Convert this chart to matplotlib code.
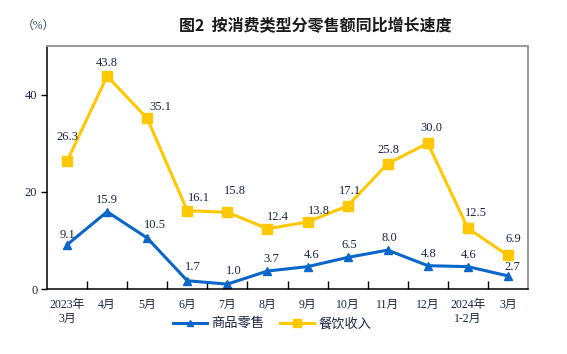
import matplotlib
matplotlib.use("Agg")
import matplotlib.pyplot as plt
import numpy as np

# categories and values
months = ["2023年\n3月", "4月", "5月", "6月", "7月", "8月", "9月", "10月",
          "11月", "12月", "2024年\n1-2月", "3月"]
goods = [9.1, 15.9, 10.5, 1.7, 1.0, 3.7, 4.6, 6.5, 8.0, 4.8, 4.6, 2.7]
catering = [26.3, 43.8, 35.1, 16.1, 15.8, 12.4, 13.8, 17.1, 25.8, 30.0, 12.5, 6.9]

# label offsets (pixels) to mimic the original placement
goods_off = [(0, 10), (0, 12), (8, 13), (6, 14), (6, 13), (4, 12), (4, 12), (2, 12),
             (2, 12), (1, 12), (1, 12), (4, 9)]
cat_off = [(0, 24), (0, 13), (13, 11), (12, 13), (8, 21), (10, 12), (11, 11), (2, 15),
           (1, 14), (4, 15), (8, 15), (5, 16)]

serif = ["Liberation Serif", "Noto Sans CJK SC"]
txtc = "#1c2340"
blue = "#0a66c8"
yellow = "#ffc800"

fig = plt.figure(figsize=(5.67, 3.54), dpi=100)
ax = fig.add_axes([47/567, 1-289/354, (528-47)/567, (289-46)/354])

x = np.arange(len(months))
ax.plot(x, goods, color=blue, lw=2.2, marker="^", ms=5.5, label="商品零售")
ax.plot(x, catering, color=yellow, lw=2.2, marker="s", ms=6.5, label="餐饮收入")

for xi, v, (dx, dy) in zip(x, goods, goods_off):
    ax.annotate(f"{v:.1f}", (xi, v), xytext=(dx, dy), textcoords="offset pixels",
                ha="center", va="center", fontsize=9, family=serif, color=txtc)
for xi, v, (dx, dy) in zip(x, catering, cat_off):
    ax.annotate(f"{v:.1f}", (xi, v), xytext=(dx, dy), textcoords="offset pixels",
                ha="center", va="center", fontsize=9, family=serif, color=txtc)

ax.set_xlim(-0.5, len(months) - 0.5)
ax.set_ylim(0, 50)
ax.set_yticks([0, 20, 40])
ax.tick_params(axis="y", direction="out", length=4, width=1, pad=3,
               labelsize=9, labelcolor=txtc)
for t in ax.get_yticklabels():
    t.set_family(serif)

ax.set_xticks(np.arange(0.5, len(months) - 1, 1))
ax.set_xticklabels([])
ax.tick_params(axis="x", which="major", direction="in", length=6, width=1)
ax.set_xticks(x, minor=True)
ax.set_xticklabels(months, minor=True, fontsize=8.5, family=serif, color=txtc,
                   linespacing=1.25)
ax.tick_params(axis="x", which="minor", length=0, pad=7)

for s in ["left", "bottom"]:
    ax.spines[s].set_color("black")
    ax.spines[s].set_linewidth(1.1)
for s in ["top", "right"]:
    ax.spines[s].set_color("#999999")
    ax.spines[s].set_linewidth(1.4)

fig.text(315/567, 1-26/354, "图2  按消费类型分零售额同比增长速度", ha="center", va="center",
         fontsize=11.5, weight="semibold", family=["Noto Sans CJK SC", "DejaVu Sans"],
         color="#1a1a1a")
fig.text(38/567, 1-26/354, "（%）", ha="center", va="center", fontsize=8.5,
         family=serif, color="#3a4060")

fig.legend(loc="center", bbox_to_anchor=(272/567, 1-324/354), ncol=2, frameon=False,
           handlelength=2.6, columnspacing=1.2, handletextpad=0.3, markerscale=0.8,
           prop={"family": serif, "size": 9.5}, labelcolor=txtc)

fig.savefig("out.png", dpi=100)
